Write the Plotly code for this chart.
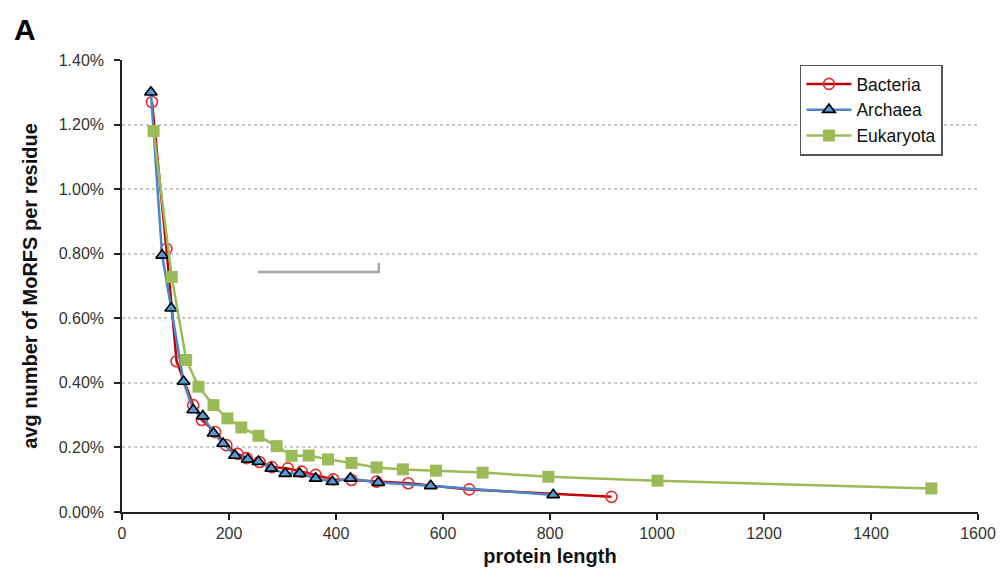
import plotly.graph_objects as go

# Data (protein length, avg MoRFs per residue as fraction)
bacteria_x = [56, 83, 102, 133, 149, 174, 195, 216, 233, 257, 280, 310, 336, 362, 395, 429, 476, 535, 649, 915]
bacteria_y = [0.0127, 0.00815, 0.00467, 0.00331, 0.00285, 0.00248, 0.00207, 0.00180, 0.00167, 0.00155,
              0.00139, 0.00135, 0.00125, 0.00115, 0.00101, 0.00099, 0.00094, 0.00089, 0.00070, 0.00047]

archaea_x = [54, 75, 92, 115, 133, 151, 171, 189, 211, 235, 255, 279, 305, 332, 362, 393, 427, 479, 577, 806]
archaea_y = [0.0130, 0.00795, 0.00631, 0.00404, 0.00316, 0.00297, 0.00244, 0.00212, 0.00175, 0.00163,
             0.00156, 0.00135, 0.00119, 0.00119, 0.00104, 0.00094, 0.00104, 0.00091, 0.00081, 0.00053]

eukaryota_x = [59, 93, 120, 143, 171, 197, 223, 255, 289, 317, 349, 385, 429, 476, 525, 587, 674, 797, 1001, 1513]
eukaryota_y = [0.0118, 0.00728, 0.00471, 0.00388, 0.00331, 0.00290, 0.00262, 0.00236, 0.00204, 0.00174,
               0.00175, 0.00163, 0.00152, 0.00138, 0.00132, 0.00128, 0.00122, 0.00109, 0.00097, 0.00073]

x_ticks = [0, 200, 400, 600, 800, 1000, 1200, 1400, 1600]
y_ticks = [0, 0.002, 0.004, 0.006, 0.008, 0.010, 0.012, 0.014]

fig = go.Figure()
fig.add_trace(go.Scatter(
    x=bacteria_x, y=bacteria_y, name="Bacteria", mode="lines+markers",
    line=dict(color="#c00000", width=2.5),
    marker=dict(symbol="circle-open", size=11, color="#e03030", line=dict(width=1.6, color="#e03030")),
))
fig.add_trace(go.Scatter(
    x=archaea_x, y=archaea_y, name="Archaea", mode="lines+markers",
    line=dict(color="#4a86c8", width=2.5),
    marker=dict(symbol="triangle-up", size=11, color="#5b9bd5", line=dict(width=1.6, color="#000000")),
))
fig.add_trace(go.Scatter(
    x=eukaryota_x, y=eukaryota_y, name="Eukaryota", mode="lines+markers",
    line=dict(color="#9bbb59", width=2.5),
    marker=dict(symbol="square", size=12, color="#9bbb59", line=dict(width=0)),
))

# stray grey bracket line present in the original figure
fig.add_shape(type="path", xref="x", yref="y",
              path="M 254 0.00743 L 480 0.00743 L 480 0.00771",
              line=dict(color="#a6a6a6", width=2.5))

fig.add_annotation(text="<b>A</b>", xref="paper", yref="paper", x=-0.1285, y=1.108,
                   xanchor="left", yanchor="top", showarrow=False,
                   font=dict(family="Liberation Sans, Arial", size=30, color="#000"))

fig.update_layout(
    width=1006, height=575,
    margin=dict(l=114, r=36, t=52, b=71, autoexpand=False),
    paper_bgcolor="white", plot_bgcolor="white",
    font=dict(family="Liberation Sans, Arial", color="#333"),
    legend=dict(x=0.792, y=0.99, xanchor="left", yanchor="top",
                bgcolor="white", bordercolor="#555", borderwidth=1.5,
                font=dict(size=17.5, color="#111"), tracegroupgap=0, itemwidth=45),
    showlegend=True,
)
fig.update_xaxes(
    range=[0, 1600], tickvals=x_ticks, ticks="outside", ticklen=6, tickwidth=1.5,
    tickcolor="#222", showline=True, linecolor="#222", linewidth=1.5,
    showgrid=False, zeroline=False, automargin=False,
    tickfont=dict(size=16, color="#333"),
    title=dict(text="<b>protein length</b>", font=dict(size=20, color="#111"), standoff=8),
)
fig.update_yaxes(
    range=[0, 0.014], tickvals=y_ticks, tickformat=".2%", ticks="outside", ticklen=6, tickwidth=1.5,
    ticklabelstandoff=7,
    tickcolor="#222", showline=True, linecolor="#222", linewidth=1.5,
    showgrid=True, gridcolor="#c8c8c8", griddash="dot", gridwidth=1.5, zeroline=False, automargin=False,
    tickfont=dict(size=16, color="#333"),
    title=dict(text="<b>avg number of MoRFS per residue</b>", font=dict(size=20, color="#111"), standoff=16),
)

fig.write_html("out.html")
